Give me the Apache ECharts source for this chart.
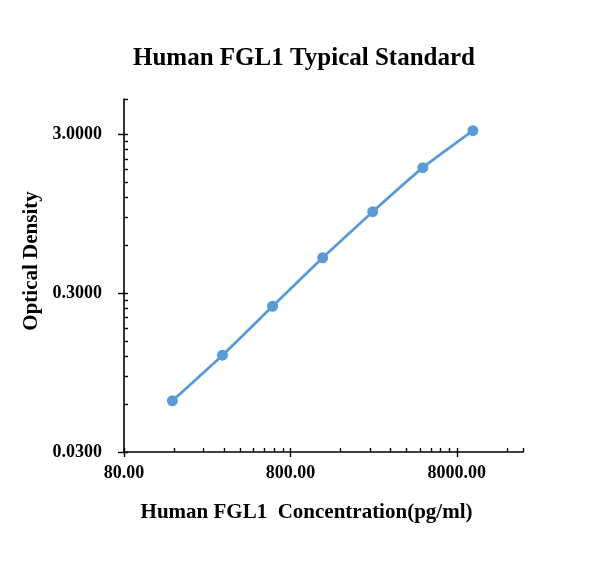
<!DOCTYPE html>
<html>
<head>
<meta charset="utf-8">
<title>Human FGL1 Typical Standard</title>
<script src="https://cdn.jsdelivr.net/npm/echarts@6/dist/echarts.min.js"></script>
<style>
    html, body { margin: 0; padding: 0; background: #fff; }
    #chart { width: 616px; height: 567px; }
</style>
</head>
<body>
<div id="chart"></div>
<script>
// Standard curve data
const concentrations = [156.25, 312.5, 625, 1250, 2500, 5000, 10000];
const opticalDensity = [0.063, 0.122, 0.248, 0.501, 0.976, 1.848, 3.16];

// Axis ticks
const xMajorTicks = [80, 800, 8000];
const xTickLabels = ['80.00', '800.00', '8000.00'];
const xMinorTicks = [160, 240, 320, 400, 480, 560, 640, 720,
                     1600, 2400, 3200, 4000, 4800, 5600, 6400, 7200,
                     16000, 20000];
const yMajorTicks = [0.03, 0.3, 3];
const yTickLabels = ['0.0300', '0.3000', '3.0000'];
const yMinorTicks = [0.06, 0.09, 0.12, 0.15, 0.18, 0.21, 0.24, 0.27,
                     0.6, 0.9, 1.2, 1.5, 1.8, 2.1, 2.4, 2.7, 5];

const FONT = '"Liberation Serif", "Times New Roman", serif';
const lineColor = '#5b9bd5';

function initChart() {
    const chartDom = document.getElementById('chart');
    const myChart = echarts.init(chartDom, null, { renderer: 'canvas' });

    const axisLine = { show: true, lineStyle: { color: '#000', width: 1.6 } };

    const option = {
        backgroundColor: '#fff',
        animation: false,
        title: {
            text: 'Human FGL1 Typical Standard',
            left: 299,
            top: 41,
            textAlign: 'center',
            textStyle: {
                fontFamily: FONT,
                fontSize: 25,
                fontWeight: 'bold',
                color: '#000'
            }
        },
        grid: {
            left: 124,
            right: 93,
            top: 99,
            bottom: 115,
            containLabel: false
        },
        xAxis: [{
            type: 'log',
            logBase: 10,
            min: 80,
            max: 20000,
            position: 'bottom',
            axisLine: axisLine,
            splitLine: { show: false },
            axisTick: {
                show: true,
                customValues: xMajorTicks,
                length: 5,
                lineStyle: { color: '#000', width: 1.4 }
            },
            axisLabel: {
                customValues: xMajorTicks,
                margin: 12,
                formatter: function(v) {
                    const i = xMajorTicks.findIndex(t => Math.abs(t - v) < 1e-6 * t);
                    return i >= 0 ? xTickLabels[i] : '';
                },
                fontFamily: FONT,
                fontSize: 18,
                fontWeight: 'bold',
                color: '#000'
            },
            name: 'Human FGL1  Concentration(pg/ml)',
            nameLocation: 'middle',
            nameGap: 50,
            nameTextStyle: {
                fontFamily: FONT,
                fontSize: 21,
                fontWeight: 'bold',
                color: '#000',
                padding: [0, 34, 0, 0]
            }
        }, {
            type: 'log',
            logBase: 10,
            min: 80,
            max: 20000,
            position: 'bottom',
            axisLine: { show: false },
            splitLine: { show: false },
            axisTick: {
                show: true,
                inside: true,
                customValues: xMinorTicks.concat(xMajorTicks),
                length: 4,
                lineStyle: { color: '#000', width: 1.4 }
            },
            axisLabel: { show: false }
        }],
        yAxis: [{
            type: 'log',
            logBase: 10,
            min: 0.03,
            max: 5,
            position: 'left',
            axisLine: axisLine,
            splitLine: { show: false },
            axisTick: {
                show: true,
                customValues: yMajorTicks,
                length: 6,
                lineStyle: { color: '#000', width: 1.4 }
            },
            axisLabel: {
                customValues: yMajorTicks,
                margin: 22,
                formatter: function(v) {
                    const i = yMajorTicks.findIndex(t => Math.abs(t - v) < 1e-6 * t);
                    return i >= 0 ? yTickLabels[i] : '';
                },
                fontFamily: FONT,
                fontSize: 18,
                fontWeight: 'bold',
                color: '#000'
            },
            name: 'Optical Density',
            nameLocation: 'middle',
            nameGap: 79,
            nameRotate: 90,
            nameTextStyle: {
                fontFamily: FONT,
                fontSize: 21,
                fontWeight: 'bold',
                color: '#000',
                padding: [0, 0, 0, 29]
            }
        }, {
            type: 'log',
            logBase: 10,
            min: 0.03,
            max: 5,
            position: 'left',
            axisLine: { show: false },
            splitLine: { show: false },
            axisTick: {
                show: true,
                inside: true,
                customValues: yMinorTicks.concat(yMajorTicks),
                length: 4,
                lineStyle: { color: '#000', width: 1.4 }
            },
            axisLabel: { show: false }
        }],
        series: [{
            name: 'Standard',
            type: 'line',
            xAxisIndex: 0,
            yAxisIndex: 0,
            data: concentrations.map((c, i) => [c, opticalDensity[i]]),
            smooth: 0.15,
            symbol: 'circle',
            symbolSize: 11,
            lineStyle: { color: lineColor, width: 2.8 },
            itemStyle: { color: lineColor }
        }]
    };

    myChart.setOption(option);
}

document.addEventListener('DOMContentLoaded', initChart);
</script>
</body>
</html>
